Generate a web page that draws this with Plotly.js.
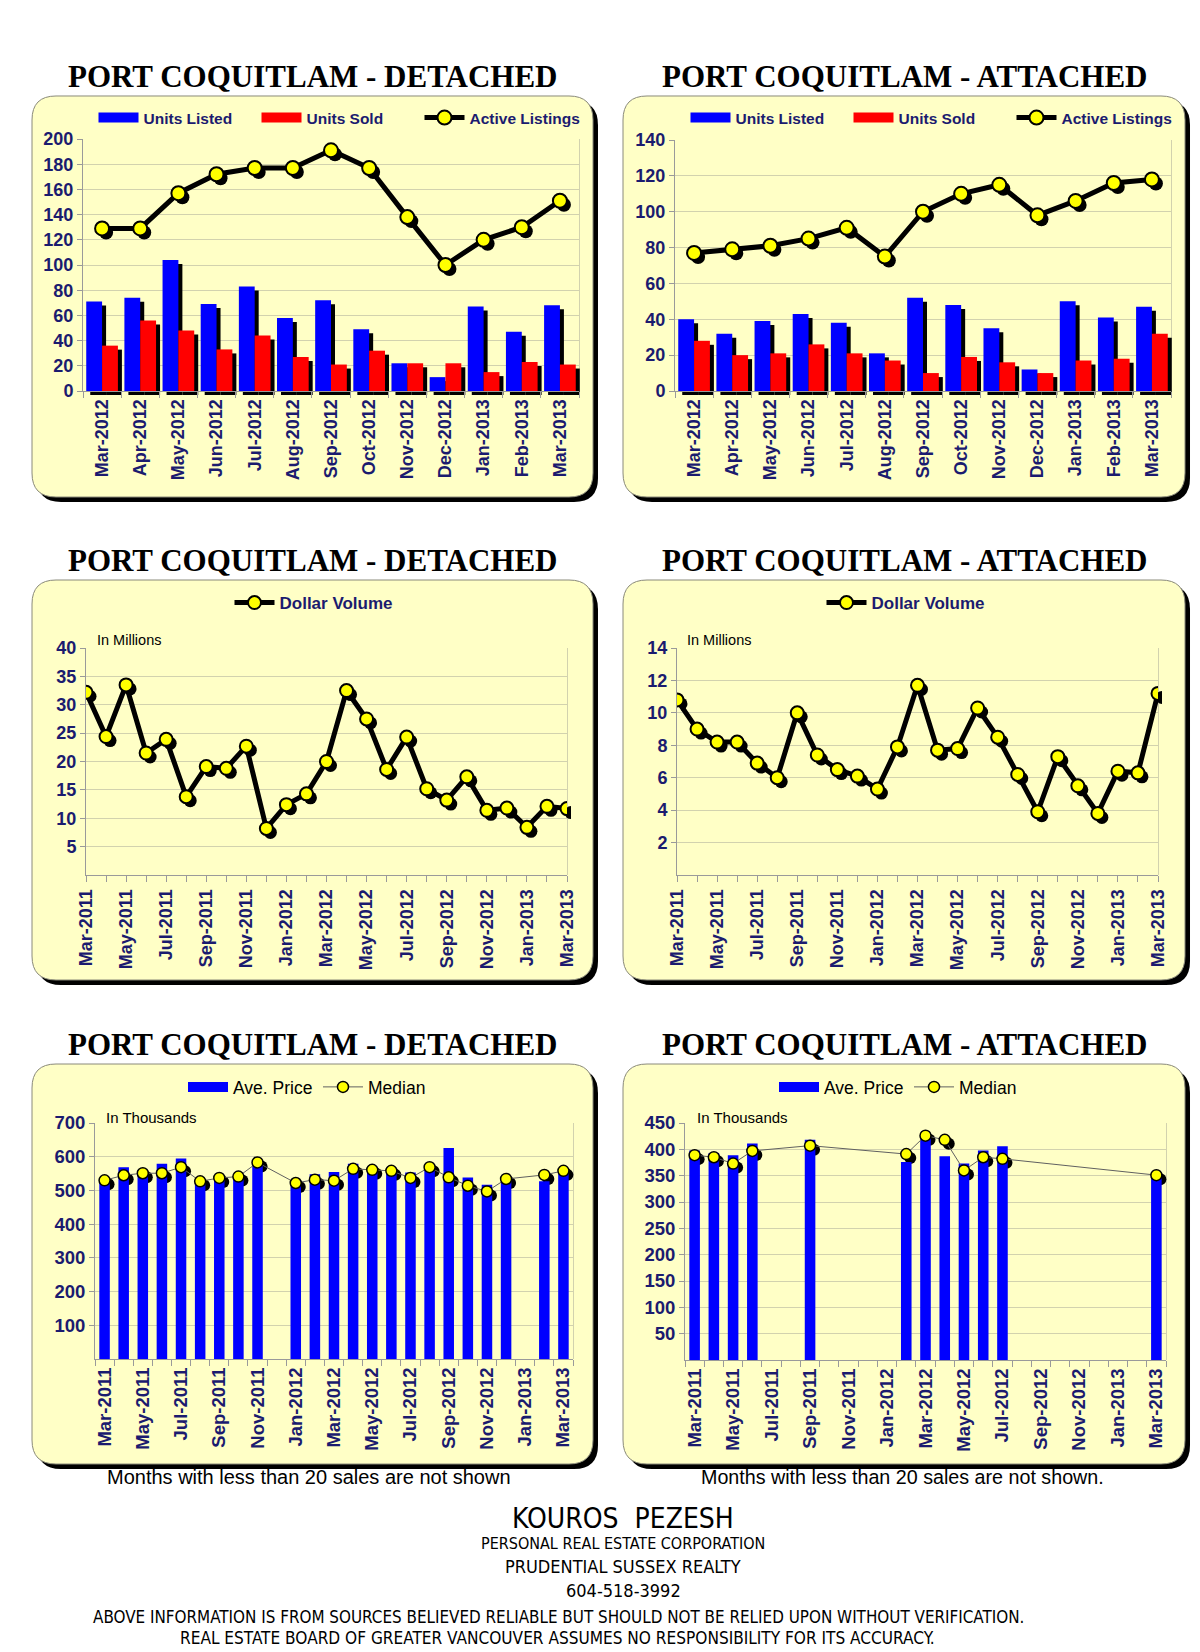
<!DOCTYPE html>
<html><head><meta charset="utf-8">
<script src="https://cdn.plot.ly/plotly-3.0.1.min.js"></script>
<style>html,body{margin:0;padding:0;background:#fff}</style>
</head><body><div id="chart" style="width:1200px;height:1652px"></div>
<script>
// ---------------- DATA ----------------
const monthsA = ['Mar-2012','Apr-2012','May-2012','Jun-2012','Jul-2012','Aug-2012','Sep-2012','Oct-2012','Nov-2012','Dec-2012','Jan-2013','Feb-2013','Mar-2013'];
const detListed = [71,74,104,69,83,58,72,49,22,11,67,47,68];
const detSold   = [36,56,48,33,44,27,21,32,22,22,15,23,21];
const detActive = [129,129,157,172,177,177,191,177,138,100,120,130,151];
const attListed = [40,32,39,43,38,21,52,48,35,12,50,41,47];
const attSold   = [28,20,21,26,21,17,10,19,16,10,17,18,32];
const attActive = [77,79,81,85,91,75,100,110,115,98,106,116,118];

const monthsB = ['Mar-2011','Apr-2011','May-2011','Jun-2011','Jul-2011','Aug-2011','Sep-2011','Oct-2011','Nov-2011','Dec-2011','Jan-2012','Feb-2012','Mar-2012','Apr-2012','May-2012','Jun-2012','Jul-2012','Aug-2012','Sep-2012','Oct-2012','Nov-2012','Dec-2012','Jan-2013','Feb-2013','Mar-2013'];
const detVolume = [32.2,24.4,33.5,21.5,23.9,13.8,19.1,18.8,22.7,8.2,12.4,14.3,20.0,32.5,27.5,18.6,24.3,15.2,13.2,17.3,11.4,11.8,8.4,12.1,11.7];
const attVolume = [10.8,9.0,8.2,8.2,6.9,6.0,10.0,7.4,6.5,6.1,5.3,7.9,11.7,7.7,7.8,10.3,8.5,6.2,3.9,7.3,5.5,3.8,6.4,6.3,11.2];

const detAvgPrice = [533,569,561,579,595,528,540,545,586,null,527,548,555,579,571,568,553,576,626,538,517,539,null,527,566];
const detMedian   = [530,545,551,551,569,527,537,541,583,null,522,532,529,564,561,558,537,569,539,514,497,534,null,546,558];
const attAvgPrice = [398,393,389,411,null,null,418,null,null,null,null,376,429,387,373,398,406,null,null,null,null,null,null,null,354];
const attMedian   = [389,385,373,397,null,null,407,null,null,null,null,391,426,418,360,385,382,null,null,null,null,null,null,null,351];

const ticksTop = [0,20,40,60,80,100,120,140,160,180,200];
const ticksTopAtt = [0,20,40,60,80,100,120,140];
const ticksVolDet = [5,10,15,20,25,30,35,40];
const ticksVolAtt = [2,4,6,8,10,12,14];
const ticksPriceDet = [100,200,300,400,500,600,700];
const ticksPriceAtt = [50,100,150,200,250,300,350,400,450];

// ---------------- STYLE ----------------
const W = 1200, H = 1652;
const fx = v => v / W, fy = v => 1 - v / H;
const FONT = 'Liberation Sans, Arial, sans-serif';
const NARROW = 'Liberation Sans Narrow, Arial Narrow, DejaVu Sans Condensed, sans-serif';
const SERIF = 'Liberation Serif, Times New Roman, serif';
const NAVY = '#1b1b6f';
const GRID = '#d2d2ae';
const AX = '#9a9a9a';
const PANEL = '#ffffc6';

const traces = [];
const layout = {
  width: W, height: H,
  margin: {l: 0, r: 0, t: 0, b: 0},
  paper_bgcolor: '#ffffff', plot_bgcolor: 'rgba(0,0,0,0)',
  barmode: 'group', bargap: 0.17, bargroupgap: 0,
  showlegend: true, font: {family: FONT},
  shapes: [], annotations: []
};
const an = i => (i === 1 ? '' : String(i));
const everyOther = arr => arr.map((m, i) => (i % 2 === 0 ? m : ''));

function addPanel(p, cfg) {
  const g = 3 * p + 1, s = 3 * p + 2, m = 3 * p + 3;
  const dx = 4, dy = 4;
  const tf = {family: FONT, size: cfg.tickSize, color: NAVY, weight: 'bold'};
  const xd = [fx(cfg.x0), fx(cfg.x1)], yd = [fy(cfg.y1), fy(cfg.y0)];
  const xds = [fx(cfg.x0 + dx), fx(cfg.x1 + dx)], yds = [fy(cfg.y1 + dy), fy(cfg.y0 + dy)];
  const xbase = {type: 'category', categoryorder: 'array', categoryarray: cfg.cats, range: cfg.xrange, fixedrange: true};
  // grid subplot (drawn first)
  layout['xaxis' + an(g)] = Object.assign({}, xbase, {domain: xd, anchor: 'y' + an(g), showgrid: false, showticklabels: false, ticks: '', showline: false, zeroline: false});
  layout['yaxis' + an(g)] = {domain: yd, anchor: 'x' + an(g), range: cfg.yrange, tickmode: 'array', tickvals: cfg.yticks,
    showgrid: true, gridcolor: GRID, gridwidth: 1, showticklabels: false, ticks: '', zeroline: false,
    showline: true, mirror: true, linecolor: GRID, fixedrange: true};
  // shadow subplot
  layout['xaxis' + an(s)] = Object.assign({}, xbase, {domain: xds, anchor: 'y' + an(s), visible: false});
  layout['yaxis' + an(s)] = {domain: yds, anchor: 'x' + an(s), range: cfg.yrange, visible: false, fixedrange: true};
  // main subplot
  layout['xaxis' + an(m)] = Object.assign({}, xbase, {domain: xd, anchor: 'y' + an(m), showgrid: false, zeroline: false,
    tickmode: 'array', tickvals: cfg.cats, ticktext: cfg.ticktext, tickson: cfg.tickson,
    ticks: 'outside', ticklen: 6, tickcolor: AX, showline: true, linecolor: AX, linewidth: 1,
    tickangle: -90, tickfont: tf});
  layout['yaxis' + an(m)] = {domain: yd, anchor: 'x' + an(m), range: cfg.yrange, tickmode: 'array', tickvals: cfg.yticks,
    showgrid: false, zeroline: false, showline: true, linecolor: AX, ticks: 'outside', ticklen: 5, tickcolor: AX,
    tickfont: tf, fixedrange: true};
  traces.push({type: 'scatter', x: [], y: [], xaxis: 'x' + an(g), yaxis: 'y' + an(g), showlegend: false, hoverinfo: 'skip'});
  const leg = 'legend' + an(p + 1);
  cfg.shadow.forEach(t => traces.push(Object.assign({xaxis: 'x' + an(s), yaxis: 'y' + an(s), showlegend: false, hoverinfo: 'skip'}, t)));
  cfg.main.forEach(t => traces.push(Object.assign({xaxis: 'x' + an(m), yaxis: 'y' + an(m), legend: leg}, t)));
  layout[leg] = {orientation: 'h', x: fx(cfg.legX), xanchor: cfg.legAnchor || 'center', y: fy(cfg.legY), yanchor: 'middle',
    bgcolor: 'rgba(0,0,0,0)', font: cfg.legFont, itemwidth: 40, traceorder: 'normal',
    entrywidth: cfg.entrywidth, entrywidthmode: 'pixels'};
}

function rr(x0, y0, x1, y1, r) {
  const X = v => fx(v).toFixed(5), Y = v => fy(v).toFixed(5);
  return `M${X(x0 + r)},${Y(y0)} L${X(x1 - r)},${Y(y0)} Q${X(x1)},${Y(y0)} ${X(x1)},${Y(y0 + r)} ` +
    `L${X(x1)},${Y(y1 - r)} Q${X(x1)},${Y(y1)} ${X(x1 - r)},${Y(y1)} L${X(x0 + r)},${Y(y1)} ` +
    `Q${X(x0)},${Y(y1)} ${X(x0)},${Y(y1 - r)} L${X(x0)},${Y(y0 + r)} Q${X(x0)},${Y(y0)} ${X(x0 + r)},${Y(y0)} Z`;
}
function box(x0, y0, x1, y1, titleText, titleX, titleY) {
  layout.shapes.push({type: 'path', xref: 'paper', yref: 'paper', layer: 'below', path: rr(x0 + 5, y0 + 5, x1 + 5, y1 + 5, 24), fillcolor: '#000', line: {width: 0}});
  layout.shapes.push({type: 'path', xref: 'paper', yref: 'paper', layer: 'below', path: rr(x0, y0, x1, y1, 24), fillcolor: PANEL, line: {color: '#8a8a7a', width: 1}});
  layout.annotations.push({xref: 'paper', yref: 'paper', x: fx(titleX), y: fy(titleY), xanchor: 'center', yanchor: 'middle', showarrow: false,
    text: '<b>' + titleText + '</b>', font: {family: SERIF, size: 31, color: '#000'}});
}
function note(text, x, y, size, family, color, anchor) {
  layout.annotations.push({xref: 'paper', yref: 'paper', x: fx(x), y: fy(y), xanchor: anchor || 'center', yanchor: 'middle', showarrow: false,
    text: text, font: {family: family || FONT, size: size, color: color || '#000'}});
}

// panel boxes & titles
box(32, 96, 593, 497, 'PORT COQUITLAM - DETACHED', 313, 76);
box(623, 96, 1185, 497, 'PORT COQUITLAM - ATTACHED', 904, 76);
box(32, 580, 593, 980, 'PORT COQUITLAM - DETACHED', 313, 560);
box(623, 580, 1185, 980, 'PORT COQUITLAM - ATTACHED', 904, 560);
box(32, 1064, 593, 1464, 'PORT COQUITLAM - DETACHED', 313, 1044);
box(623, 1064, 1185, 1464, 'PORT COQUITLAM - ATTACHED', 904, 1044);

const legBold = {family: FONT, size: 15.5, color: NAVY, weight: 'bold'};
const legBold2 = {family: FONT, size: 17, color: NAVY, weight: 'bold'};
const legReg = {family: FONT, size: 17.5, color: '#000'};

// legend-only swatch (wide coloured bar like the original legend key)
const swatch = (name, color) => ({type: 'scatter', mode: 'lines', name: name, x: [null], y: [null], line: {color: color, width: 10}, hoverinfo: 'skip'});

function listingTraces(cats, listed, sold, active) {
  return {
    shadow: [
      {type: 'bar', x: cats, y: listed, marker: {color: '#000'}},
      {type: 'bar', x: cats, y: sold, marker: {color: '#000'}},
      {type: 'scatter', mode: 'markers', x: cats, y: active, marker: {color: '#000', size: 14}}
    ],
    main: [
      swatch('Units Listed', '#0000ff'),
      swatch('Units Sold', '#ff0000'),
      {type: 'bar', name: 'Units Listed', x: cats, y: listed, marker: {color: '#0000ff'}, showlegend: false},
      {type: 'bar', name: 'Units Sold', x: cats, y: sold, marker: {color: '#ff0000'}, showlegend: false},
      {type: 'scatter', mode: 'lines+markers', name: 'Active Listings', x: cats, y: active, line: {color: '#000', width: 5},
        marker: {color: '#ffff00', size: 14, line: {color: '#000', width: 2}}}
    ]
  };
}
function volumeTraces(cats, vol) {
  return {
    shadow: [{type: 'scatter', mode: 'markers', x: cats, y: vol, marker: {color: '#000', size: 13}}],
    main: [{type: 'scatter', mode: 'lines+markers', name: 'Dollar Volume', x: cats, y: vol, line: {color: '#000', width: 5},
      marker: {color: '#ffff00', size: 13, line: {color: '#000', width: 2}}}]
  };
}
function priceTraces(cats, avg, med) {
  return {
    shadow: [{type: 'scatter', mode: 'markers', x: cats, y: med, marker: {color: '#000', size: 12}}],
    main: [
      swatch('Ave. Price', '#0000ff'),
      {type: 'bar', name: 'Ave. Price', x: cats, y: avg, width: 0.55, marker: {color: '#0000ff'}, showlegend: false},
      {type: 'scatter', mode: 'lines+markers', name: 'Median', x: cats, y: med, connectgaps: true, line: {color: '#606060', width: 1},
        marker: {color: '#ffff00', size: 11, line: {color: '#000', width: 1.5}}}
    ]
  };
}

addPanel(0, Object.assign({x0: 83, x1: 579, y0: 139, y1: 391, cats: monthsA, ticktext: monthsA, tickson: 'boundaries', tickSize: 18,
  xrange: [-0.5, 12.5], yrange: [0, 200], yticks: ticksTop, legX: 338, legY: 118, legFont: legBold, entrywidth: 108},
  listingTraces(monthsA, detListed, detSold, detActive)));
addPanel(1, Object.assign({x0: 675, x1: 1171, y0: 140, y1: 391, cats: monthsA, ticktext: monthsA, tickson: 'boundaries', tickSize: 18,
  xrange: [-0.5, 12.5], yrange: [0, 140], yticks: ticksTopAtt, legX: 930, legY: 118, legFont: legBold, entrywidth: 108},
  listingTraces(monthsA, attListed, attSold, attActive)));
addPanel(2, Object.assign({x0: 86, x1: 567, y0: 648, y1: 875, cats: monthsB, ticktext: everyOther(monthsB), tickson: 'labels', tickSize: 18,
  xrange: [0, 24], yrange: [0, 40], yticks: ticksVolDet, legX: 314, legY: 603, legFont: legBold2},
  volumeTraces(monthsB, detVolume)));
addPanel(3, Object.assign({x0: 677, x1: 1158, y0: 648, y1: 875, cats: monthsB, ticktext: everyOther(monthsB), tickson: 'labels', tickSize: 18,
  xrange: [0, 24], yrange: [0, 14], yticks: ticksVolAtt, legX: 906, legY: 603, legFont: legBold2},
  volumeTraces(monthsB, attVolume)));
addPanel(4, Object.assign({x0: 95, x1: 573, y0: 1123, y1: 1359, cats: monthsB, ticktext: everyOther(monthsB), tickson: 'boundaries', tickSize: 18.5,
  xrange: [-0.5, 24.5], yrange: [0, 700], yticks: ticksPriceDet, legX: 183, legAnchor: 'left', legY: 1087, legFont: legReg, entrywidth: 80},
  priceTraces(monthsB, detAvgPrice, detMedian)));
addPanel(5, Object.assign({x0: 685, x1: 1166, y0: 1123, y1: 1360, cats: monthsB, ticktext: everyOther(monthsB), tickson: 'boundaries', tickSize: 18.5,
  xrange: [-0.5, 24.5], yrange: [0, 450], yticks: ticksPriceAtt, legX: 774, legAnchor: 'left', legY: 1087, legFont: legReg, entrywidth: 80},
  priceTraces(monthsB, attAvgPrice, attMedian)));

// unit notes
note('In Millions', 95, 640, 14.5, FONT, '#000', 'left');
note('In Millions', 685, 640, 14.5, FONT, '#000', 'left');
note('In Thousands', 104, 1117, 15, FONT, '#000', 'left');
note('In Thousands', 695, 1117, 15, FONT, '#000', 'left');
note('Months with less than 20 sales are not shown', 309, 1477, 20, FONT);
note('Months with less than 20 sales are not shown.', 902, 1477, 19.7, FONT);

// footer
note('KOUROS\u00a0 PEZESH', 623, 1518, 28, NARROW);
note('PERSONAL REAL ESTATE CORPORATION', 623, 1543, 16, NARROW);
note('PRUDENTIAL SUSSEX REALTY', 623, 1566, 18, NARROW);
note('604-518-3992', 623, 1590, 18, NARROW);
note('ABOVE INFORMATION IS FROM SOURCES BELIEVED RELIABLE BUT SHOULD NOT BE RELIED UPON WITHOUT VERIFICATION.', 558, 1617, 16.9, NARROW);
note('REAL ESTATE BOARD OF GREATER VANCOUVER ASSUMES NO RESPONSIBILITY FOR ITS ACCURACY.', 557, 1638, 17.1, NARROW);

Plotly.newPlot('chart', traces, layout, {displayModeBar: false, staticPlot: true});
</script></body></html>
